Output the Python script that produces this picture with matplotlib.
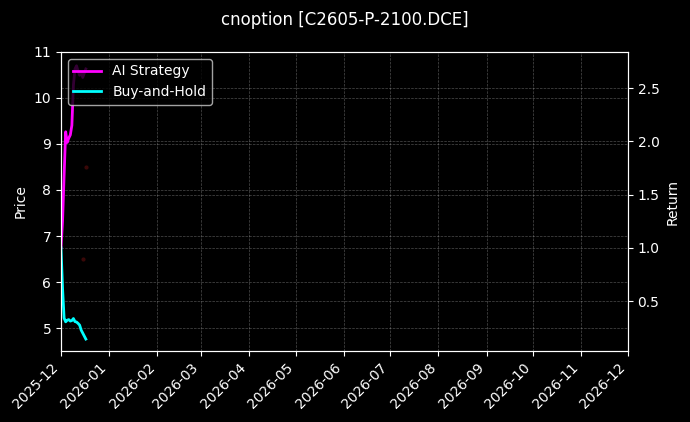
import matplotlib
matplotlib.use('Agg')
import matplotlib.pyplot as plt
import matplotlib.dates as mdates
import pandas as pd

plt.style.use('dark_background')

title = 'cnoption [C2605-P-2100.DCE]'
dates = pd.date_range('2025-12-01', '2025-12-17', freq='D')
ai_return = [1.00, 1.25, 1.68, 2.09, 1.99, 2.03, 2.06, 2.15, 2.53, 2.68,
             2.71, 2.66, 2.62, 2.65, 2.60, 2.64, 2.68]
bh_return = [1.00, 0.62, 0.34, 0.305, 0.32, 0.326, 0.312, 0.317, 0.336, 0.307,
             0.303, 0.290, 0.274, 0.227, 0.199, 0.171, 0.143]
signal_dates = pd.to_datetime(['2025-12-15', '2025-12-17'])
signal_prices = [6.5, 8.5]

fig, ax = plt.subplots(figsize=(6.9, 4.22), dpi=100)
fig.subplots_adjust(left=0.0884, right=0.910, top=0.877, bottom=0.168)

ax.scatter(signal_dates, signal_prices, s=4, color='#3a0808', zorder=1)
ax.set_ylim(4.5, 11)
ax.set_ylabel('Price')
ax.grid(True, linestyle='--', linewidth=0.5, alpha=0.3)

ax2 = ax.twinx()
l1, = ax2.plot(dates, ai_return, color='magenta', linewidth=2, label='AI Strategy')
l2, = ax2.plot(dates, bh_return, color='cyan', linewidth=2, label='Buy-and-Hold')
ax2.set_ylim(0.03, 2.84)
ax2.set_ylabel('Return')
ax2.grid(True, linestyle='--', linewidth=0.5, alpha=0.3)

ax.set_xlim(pd.Timestamp('2025-12-01'), pd.Timestamp('2026-12-01'))
ax.xaxis.set_major_locator(mdates.MonthLocator())
ax.xaxis.set_major_formatter(mdates.DateFormatter('%Y-%m'))
plt.setp(ax.get_xticklabels(), rotation=45, ha='right')

ax2.legend(handles=[l1, l2], loc='upper left')
fig.suptitle(title, fontsize=12, y=0.975)

plt.savefig('out.png')
